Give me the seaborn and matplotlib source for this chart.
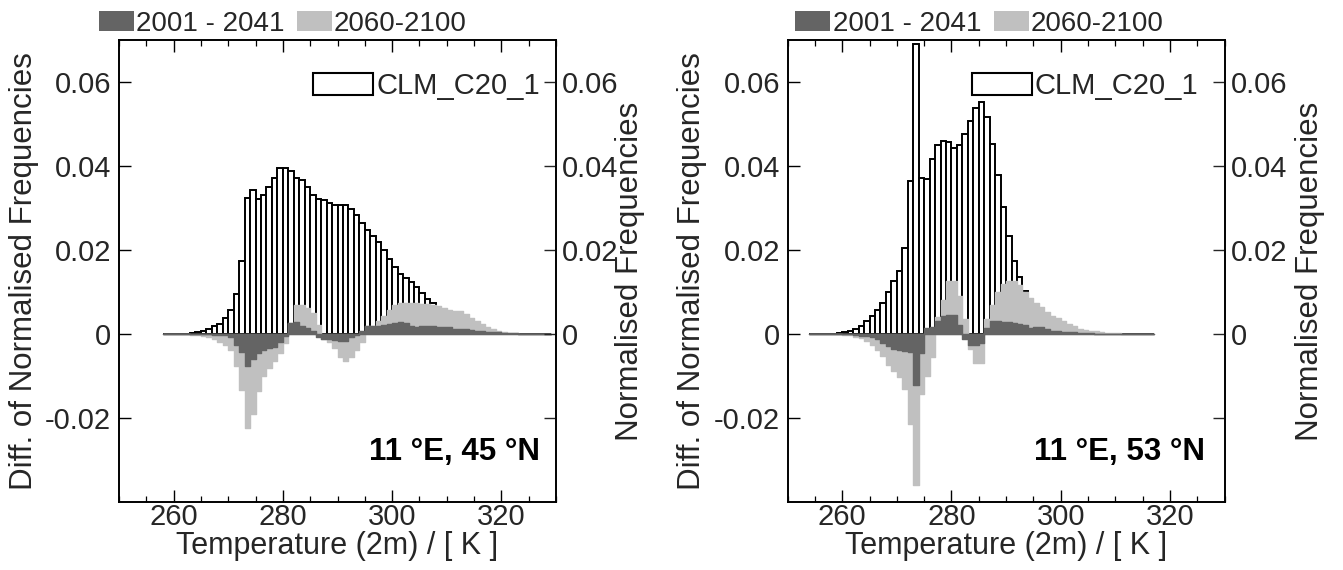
import numpy as np
import pandas as pd
import matplotlib
matplotlib.use("Agg")
import matplotlib.pyplot as plt
from matplotlib.patches import Patch
from matplotlib.ticker import MultipleLocator
from matplotlib import font_manager
import seaborn as sns

# ---------------- data (1 K bins) ----------------
left_start = 258  # first bin lower edge, 11E 45N
left_clm = [0.0000, 0.0000, 0.0000, 0.0001, 0.0001, 0.0002, 0.0004, 0.0007, 0.0011, 0.0018,
            0.0024, 0.0037, 0.0056, 0.0096, 0.0173, 0.0325, 0.0344, 0.0321, 0.0332, 0.0349,
            0.0371, 0.0395, 0.0395, 0.0389, 0.0371, 0.0367, 0.0350, 0.0332, 0.0321, 0.0318,
            0.0312, 0.0308, 0.0306, 0.0308, 0.0298, 0.0284, 0.0264, 0.0247, 0.0233, 0.0218,
            0.0200, 0.0179, 0.0160, 0.0144, 0.0133, 0.0123, 0.0113, 0.0097, 0.0083, 0.0074,
            0.0060, 0.0048, 0.0040, 0.0033, 0.0027, 0.0021, 0.0016, 0.0012, 0.0009, 0.0006,
            0.0004, 0.0003, 0.0002, 0.0001, 0.0001, 0.0000, 0.0000, 0.0000, 0.0000, 0.0000,
            0.0000]
left_d1 = [0.0000, 0.0000, 0.0000, 0.0000, 0.0000, 0.0000, -0.0000, -0.0001, -0.0001, -0.0002,
           -0.0002, -0.0003, -0.0008, -0.0025, -0.0042, -0.0075, -0.0060, -0.0046, -0.0038, -0.0034,
           -0.0030, -0.0020, -0.0005, 0.0026, 0.0028, 0.0018, 0.0014, 0.0008, -0.0008, -0.0012,
           -0.0012, -0.0015, -0.0016, -0.0016, -0.0008, -0.0002, 0.0006, 0.0018, 0.0018, 0.0020,
           0.0022, 0.0025, 0.0027, 0.0028, 0.0026, 0.0020, 0.0016, 0.0020, 0.0020, 0.0019,
           0.0017, 0.0016, 0.0016, 0.0013, 0.0012, 0.0012, 0.0009, 0.0008, 0.0008, 0.0005,
           0.0004, 0.0004, 0.0002, 0.0002, 0.0002, 0.0001, 0.0001, 0.0001, 0.0001, 0.0001,
           0.0000]
left_d2 = [0.0000, 0.0000, -0.0000, -0.0001, -0.0001, -0.0002, -0.0002, -0.0004, -0.0006, -0.0011,
           -0.0018, -0.0027, -0.0038, -0.0077, -0.0133, -0.0224, -0.0190, -0.0135, -0.0100, -0.0082,
           -0.0065, -0.0045, -0.0022, 0.0027, 0.0068, 0.0068, 0.0063, 0.0050, 0.0022, -0.0012,
           -0.0018, -0.0034, -0.0054, -0.0065, -0.0054, -0.0038, -0.0018, 0.0019, 0.0020, 0.0030,
           0.0042, 0.0058, 0.0069, 0.0074, 0.0075, 0.0074, 0.0073, 0.0072, 0.0071, 0.0069,
           0.0066, 0.0062, 0.0058, 0.0055, 0.0054, 0.0047, 0.0039, 0.0031, 0.0023, 0.0017,
           0.0012, 0.0008, 0.0005, 0.0003, 0.0002, 0.0001, 0.0001, 0.0001, 0.0000, 0.0000,
           0.0000]

right_start = 254  # first bin lower edge, 11E 53N
right_clm = [0.0000, 0.0000, 0.0000, 0.0000, 0.0000, 0.0002, 0.0005, 0.0008, 0.0013, 0.0019,
             0.0030, 0.0044, 0.0057, 0.0075, 0.0100, 0.0127, 0.0151, 0.0205, 0.0365, 0.0690,
             0.0372, 0.0369, 0.0417, 0.0449, 0.0460, 0.0458, 0.0444, 0.0451, 0.0476, 0.0506,
             0.0537, 0.0553, 0.0517, 0.0453, 0.0378, 0.0303, 0.0233, 0.0175, 0.0135, 0.0103,
             0.0075, 0.0055, 0.0040, 0.0030, 0.0022, 0.0016, 0.0012, 0.0009, 0.0006, 0.0004,
             0.0003, 0.0002, 0.0001, 0.0000, 0.0000, 0.0000, 0.0000, 0.0000, 0.0000, 0.0000,
             0.0000, 0.0000, 0.0000]
right_d1 = [0.0000, 0.0000, 0.0000, 0.0000, 0.0000, 0.0000, -0.0001, -0.0001, -0.0002, -0.0004,
            -0.0005, -0.0008, -0.0013, -0.0021, -0.0029, -0.0035, -0.0038, -0.0041, -0.0044, -0.0122,
            -0.0045, 0.0014, 0.0016, 0.0030, 0.0042, 0.0046, 0.0046, 0.0022, -0.0012, -0.0025,
            -0.0025, -0.0022, 0.0014, 0.0030, 0.0032, 0.0029, 0.0028, 0.0027, 0.0025, 0.0022,
            0.0015, 0.0016, 0.0016, 0.0011, 0.0008, 0.0008, 0.0005, 0.0005, 0.0004, 0.0003,
            0.0002, 0.0002, 0.0001, 0.0001, 0.0001, 0.0001, 0.0001, 0.0001, 0.0001, 0.0001,
            0.0001, 0.0001, 0.0000]
right_d2 = [0.0000, 0.0000, 0.0000, 0.0000, 0.0000, -0.0001, -0.0002, -0.0003, -0.0006, -0.0010,
            -0.0016, -0.0025, -0.0037, -0.0053, -0.0073, -0.0089, -0.0103, -0.0130, -0.0214, -0.0359,
            -0.0143, -0.0100, -0.0055, 0.0040, 0.0082, 0.0127, 0.0127, 0.0090, 0.0035, -0.0035,
            -0.0068, -0.0068, 0.0035, 0.0068, 0.0100, 0.0120, 0.0126, 0.0127, 0.0116, 0.0100,
            0.0086, 0.0075, 0.0065, 0.0053, 0.0044, 0.0037, 0.0030, 0.0024, 0.0018, 0.0013,
            0.0010, 0.0008, 0.0006, 0.0004, 0.0003, 0.0002, 0.0002, 0.0001, 0.0001, 0.0001,
            0.0001, 0.0000, 0.0000]

period_labels = ["2001 - 2041", "2060-2100"]
ref_label = "CLM_C20_1"
locations = ["11 \u00b0E, 45 \u00b0N", "11 \u00b0E, 53 \u00b0N"]
xticks = [260, 280, 300, 320]
yticks = [-0.02, 0, 0.02, 0.04, 0.06]
ytick_labels = ["-0.02", "0", "0.02", "0.04", "0.06"]

# ---------------- style ----------------
sns.set_theme(style="ticks")
plt.rcParams['font.family'] = ['Liberation Sans', 'DejaVu Sans']
plt.rcParams['axes.unicode_minus'] = False

_names = {f.name for f in font_manager.fontManager.ttflist}
if 'Liberation Sans Narrow' in _names:
    PER_PROP = {'family': ['Liberation Sans Narrow', 'DejaVu Sans'], 'size': 22}
else:
    PER_PROP = {'family': ['Liberation Sans', 'DejaVu Sans'], 'size': 20}

DARK = '#646464'
LIGHT = '#c0c0c0'
TICK_FS = 21
LAB_FS = 22.5

W, H = 1343, 570
fig = plt.figure(figsize=(W / 100, H / 100), dpi=100)
ax_l = fig.add_axes([119 / W, 68 / H, 437 / W, 462 / H])
ax_r = fig.add_axes([787.6 / W, 68 / H, 437 / W, 462 / H])


def panel(ax, start, clm, d1, d2, loc_text, leg_x0, clm_x, loc_x, lab_l, lab_r):
    n = len(clm)
    edges = [float(start + i) for i in range(n + 1)]
    centers = [e + 0.5 for e in edges[:-1]]
    df = pd.DataFrame({'T': centers, 'clm': clm, 'd1': d1, 'd2': d2})
    dpos = df[df['clm'] > 0]
    sns.histplot(data=dpos, x='T', weights='clm', bins=edges, element='bars', fill=True,
                 color='white', edgecolor='black', linewidth=1.4, alpha=1, ax=ax,
                 zorder=1, legend=False)
    sns.histplot(data=df, x='T', weights='d2', bins=edges, element='step', fill=True,
                 color=LIGHT, edgecolor=LIGHT, linewidth=1.0, alpha=1, ax=ax, zorder=2,
                 legend=False)
    sns.histplot(data=df, x='T', weights='d1', bins=edges, element='step', fill=True,
                 color=DARK, edgecolor=DARK, linewidth=1.0, alpha=1, ax=ax, zorder=3,
                 legend=False)

    ax.set_xlim(250, 330)
    ax.set_ylim(-0.04, 0.07)
    ax.set_xticks(xticks)
    ax.set_xticklabels([str(t) for t in xticks])
    ax.xaxis.set_minor_locator(MultipleLocator(5))
    ax.set_yticks(yticks)
    ax.set_yticklabels(ytick_labels)
    ax.tick_params(axis='x', which='both', direction='in', top=True, bottom=True,
                   labelsize=TICK_FS, pad=1, color='black')
    ax.tick_params(axis='y', which='both', direction='in', left=True, right=False,
                   labelsize=TICK_FS, pad=5.5, color='black')
    ax.tick_params(which='major', length=8.6, width=1.0)
    ax.tick_params(which='minor', length=4.3, width=0.9)
    for sp in ax.spines.values():
        sp.set_visible(True)
        sp.set_color('black')
        sp.set_linewidth(1.2)

    ax.set_xlabel('Temperature (2m) / [ K ]', fontsize=22)
    ax.set_ylabel('Diff. of Normalised Frequencies', fontsize=LAB_FS)
    ax.xaxis.set_label_coords(0.5, -0.063)
    ax.yaxis.set_label_coords(lab_l, 0.5)

    tw = ax.twinx()
    tw.set_ylim(-0.04, 0.07)
    tw.set_yticks(yticks)
    tw.set_yticklabels([''] + ytick_labels[1:])
    tw.tick_params(axis='y', direction='in', length=8.6, width=1.0, labelsize=TICK_FS, pad=4.5)
    tw.set_ylabel('Normalised Frequencies', fontsize=LAB_FS)
    tw.yaxis.set_label_coords(lab_r, 0.5)
    for sp in tw.spines.values():
        sp.set_visible(True)
        sp.set_color('black')
        sp.set_linewidth(1.2)

    # period legend above the axes
    h_per = [Patch(facecolor=DARK, edgecolor='none'), Patch(facecolor=LIGHT, edgecolor='none')]
    leg1 = ax.legend(h_per, period_labels, loc='lower left', bbox_to_anchor=(leg_x0, 1.004),
                     ncol=2, frameon=False, prop=PER_PROP, handlelength=1.26, handleheight=0.72,
                     handletextpad=0.08, columnspacing=0.45, borderpad=0.05, borderaxespad=0.0)
    ax.add_artist(leg1)
    # reference legend inside
    h_ref = [Patch(facecolor='white', edgecolor='black', linewidth=1.5)]
    ax.legend(h_ref, [ref_label], loc='upper right', bbox_to_anchor=(clm_x, 0.93),
              frameon=False, fontsize=TICK_FS, handlelength=2.05, handleheight=0.75,
              handletextpad=0.1, borderpad=0.0, borderaxespad=0.0)

    ax.text(loc_x, 0.108, loc_text, transform=ax.transAxes, ha='right', va='center',
            fontsize=22.5, fontweight='bold', color='black')


panel(ax_l, left_start, left_clm, left_d1, left_d2, locations[0], -0.05, 0.963, 0.963,
      -0.184, 1.135)
panel(ax_r, right_start, right_clm, right_d1, right_d2, locations[1], 0.0146, 0.94, 0.955,
      -0.184, 1.162)

fig.savefig('out.png', dpi=100)
